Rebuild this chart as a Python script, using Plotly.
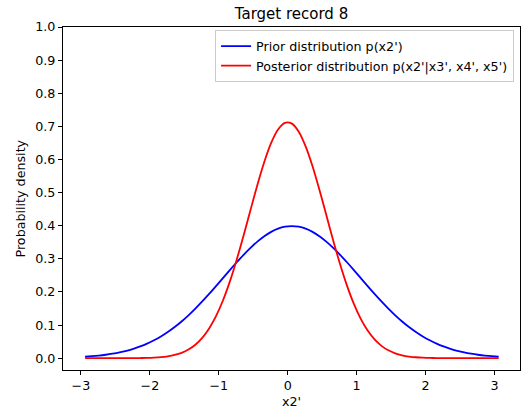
import plotly.graph_objects as go

x_vals = [-2.94, -2.84, -2.74, -2.64, -2.54, -2.44, -2.34, -2.24, -2.14, -2.04,
          -1.94, -1.84, -1.74, -1.64, -1.54, -1.44, -1.34, -1.24, -1.14, -1.04,
          -0.94, -0.84, -0.74, -0.64, -0.54, -0.44, -0.34, -0.24, -0.14, -0.04,
          0.06, 0.16, 0.26, 0.36, 0.46, 0.56, 0.66, 0.76, 0.86, 0.96,
          1.06, 1.16, 1.26, 1.36, 1.46, 1.56, 1.66, 1.76, 1.86, 1.96,
          2.06, 2.16, 2.26, 2.36, 2.46, 2.56, 2.66, 2.76, 2.86, 2.96, 3.06]

prior_vals = [0.0044, 0.0060, 0.0079, 0.0104, 0.0136, 0.0175, 0.0224, 0.0283, 0.0355, 0.0440,
              0.0540, 0.0656, 0.0790, 0.0941, 0.1109, 0.1295, 0.1497, 0.1714, 0.1942, 0.2179,
              0.2420, 0.2661, 0.2897, 0.3123, 0.3332, 0.3521, 0.3683, 0.3814, 0.3910, 0.3970,
              0.3989, 0.3970, 0.3910, 0.3814, 0.3683, 0.3521, 0.3332, 0.3123, 0.2897, 0.2661,
              0.2420, 0.2179, 0.1942, 0.1714, 0.1497, 0.1295, 0.1109, 0.0941, 0.0790, 0.0656,
              0.0540, 0.0440, 0.0355, 0.0283, 0.0224, 0.0175, 0.0136, 0.0104, 0.0079, 0.0060, 0.0044]

posterior_vals = [0.0000, 0.0000, 0.0000, 0.0000, 0.0000, 0.0001, 0.0001, 0.0002, 0.0005, 0.0009,
                  0.0018, 0.0032, 0.0057, 0.0098, 0.0162, 0.0261, 0.0407, 0.0614, 0.0898, 0.1270,
                  0.1742, 0.2313, 0.2976, 0.3708, 0.4475, 0.5232, 0.5925, 0.6499, 0.6905, 0.7106,
                  0.7083, 0.6839, 0.6396, 0.5794, 0.5084, 0.4321, 0.3557, 0.2837, 0.2191, 0.1639,
                  0.1188, 0.0834, 0.0567, 0.0373, 0.0238, 0.0147, 0.0088, 0.0051, 0.0029, 0.0016,
                  0.0008, 0.0004, 0.0002, 0.0001, 0.0001, 0.0000, 0.0000, 0.0000, 0.0000, 0.0000, 0.0000]

x_ticks = [-3, -2, -1, 0, 1, 2, 3]
y_ticks = [0.0, 0.1, 0.2, 0.3, 0.4, 0.5, 0.6, 0.7, 0.8, 0.9, 1.0]

FONT = "DejaVu Sans, sans-serif"
FS = 12.7
W, H = 521, 411
L, R, T, B = 63, 1, 27, 41

fig = go.Figure()
fig.add_trace(go.Scatter(x=x_vals, y=prior_vals, mode="lines",
                         line=dict(color="#0000ff", width=1.8, shape="spline", smoothing=0.8),
                         name="Prior distribution p(x2')"))
fig.add_trace(go.Scatter(x=x_vals, y=posterior_vals, mode="lines",
                         line=dict(color="#ff0000", width=1.8, shape="spline", smoothing=0.8),
                         name="Posterior distribution p(x2'|x3', x4', x5')"))

fig.update_layout(
    width=W, height=H,
    margin=dict(l=L, r=R, t=T, b=B, autoexpand=False),
    paper_bgcolor="white", plot_bgcolor="white",
    font=dict(family=FONT, size=FS, color="black"),
    title=dict(text="Target record 8", x=0.5, xref="paper", xanchor="center",
               y=1 - 14 / H, yref="container", yanchor="middle",
               font=dict(family=FONT, size=15, color="black")),
    legend=dict(x=0.987, y=0.99, xanchor="right", yanchor="top",
                bgcolor="rgba(255,255,255,0.8)", bordercolor="#cccccc", borderwidth=1,
                font=dict(family=FONT, size=FS, color="black"),
                tracegroupgap=0, itemwidth=30),
    showlegend=True,
    annotations=[
        dict(text="x2'", xref="paper", yref="paper", x=0.5, y=-(401 - (H - B)) / (H - T - B),
             xanchor="center", yanchor="middle", showarrow=False,
             font=dict(family=FONT, size=FS, color="black")),
        dict(text="Probability density", xref="paper", yref="paper",
             x=-(L - 20) / (W - L - R), y=0.5, textangle=-90,
             xanchor="center", yanchor="middle", showarrow=False,
             font=dict(family=FONT, size=FS, color="black")),
    ],
)

fig.update_xaxes(range=[-3.26, 3.37], tickvals=x_ticks,
                 ticktext=[str(v) if v >= 0 else "\u2212" + str(-v) for v in x_ticks],
                 showgrid=False, zeroline=False, showline=True, linecolor="black", linewidth=1,
                 mirror=True, ticks="outside", ticklen=4, tickcolor="black", automargin=False)
fig.update_yaxes(range=[-0.0356, 1.0], tickvals=y_ticks, tickformat=".1f",
                 showgrid=False, zeroline=False, showline=True, linecolor="black", linewidth=1,
                 mirror=True, ticks="outside", ticklen=4, tickcolor="black", automargin=False)

fig.write_html("out.html", config={"displayModeBar": False},
               post_script="document.body.style.margin='0px';document.body.style.padding='0px';document.body.style.overflow='hidden';")
